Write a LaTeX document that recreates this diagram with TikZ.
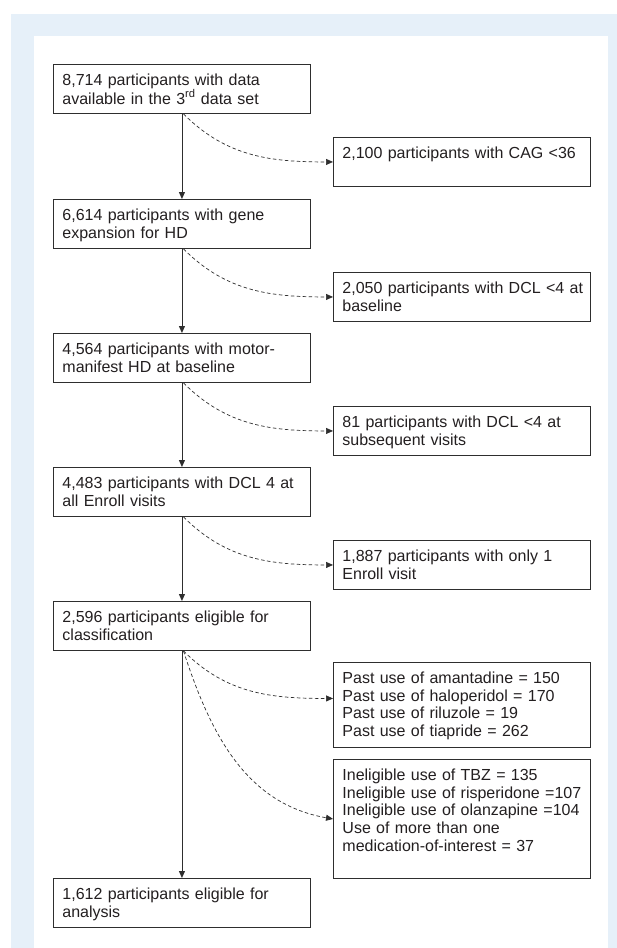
\documentclass[tikz,border=0pt]{standalone}
\usepackage{fontspec}
\setmainfont{Liberation Sans}
\usetikzlibrary{arrows.meta}
\definecolor{panelblue}{HTML}{E6F0F9}
\definecolor{boxline}{HTML}{2E2E2E}
\definecolor{txt}{HTML}{231F20}
\begin{document}
\begin{tikzpicture}[x=1pt,y=1pt,
  box/.style={draw=boxline, line width=0.9pt, anchor=north west, text width=239pt,
    inner xsep=9pt, inner ysep=0pt, text height=21pt, align=left, text=txt,
    font=\fontsize{16}{17.7}\selectfont},
  flow/.style={draw=boxline, line width=0.9pt, -{Triangle[length=7pt,width=6pt]}},
  side/.style={draw=boxline, line width=0.7pt, dash pattern=on 3.5pt off 2.5pt,
    -{Triangle[length=7pt,width=6pt]}}]
\useasboundingbox (0,0) rectangle (617,-948);
\fill[panelblue] (11,-14) rectangle (617,-948);
\fill[white] (34,-36) rectangle (608,-948);

\node[box, text depth=28pt] (L1) at (53,-64) {8,714 participants with data\\available in the 3\textsuperscript{rd} data set};
\node[box, text depth=28pt] (L2) at (53,-199) {6,614 participants with gene\\expansion for HD};
\node[box, text depth=28pt] (L3) at (53,-333) {4,564 participants with motor-\\manifest HD at baseline};
\node[box, text depth=28pt] (L4) at (53,-467) {4,483 participants with DCL 4 at\\all Enroll visits};
\node[box, text depth=28pt] (L5) at (53,-601) {2,596 participants eligible for\\classification};
\node[box, text depth=28pt] (L6) at (53,-878) {1,612 participants eligible for\\analysis};

\node[box, text depth=28pt] (R1) at (333,-137) {2,100 participants with CAG <36};
\node[box, text depth=28pt] (R2) at (333,-272) {\mbox{2,050 participants with DCL <4 at}\\baseline};
\node[box, text depth=28pt] (R3) at (333,-406) {81 participants with DCL <4 at\\subsequent visits};
\node[box, text depth=28pt] (R4) at (333,-540) {1,887 participants with only 1\\Enroll visit};
\node[box, text depth=64pt] (R5) at (333,-662) {Past use of amantadine = 150\\Past use of haloperidol = 170\\Past use of riluzole = 19\\Past use of tiapride = 262};
\node[box, text depth=98pt] (R6) at (333,-759) {Ineligible use of TBZ = 135\\\mbox{Ineligible use of risperidone =107}\\Ineligible use of olanzapine =104\\Use of more than one\\medication-of-interest = 37};

\draw[flow] (L1) -- (L2);
\draw[flow] (L2) -- (L3);
\draw[flow] (L3) -- (L4);
\draw[flow] (L4) -- (L5);
\draw[flow] (L5) -- (L6);

\draw[side] ([xshift=1.5pt]L1.south) to[out=-45,in=180] (R1.west);
\draw[side] ([xshift=1.5pt]L2.south) to[out=-45,in=180] (R2.west);
\draw[side] ([xshift=1.5pt]L3.south) to[out=-45,in=180] (R3.west);
\draw[side] ([xshift=1.5pt]L4.south) to[out=-45,in=180] (R4.west);
\draw[side] ([xshift=1.5pt]L5.south) to[out=-45,in=180] ([yshift=6.5pt]R5.west);
\draw[side] ([xshift=1.5pt]L5.south) to[out=-72,in=170] (R6.west);
\end{tikzpicture}
\end{document}
